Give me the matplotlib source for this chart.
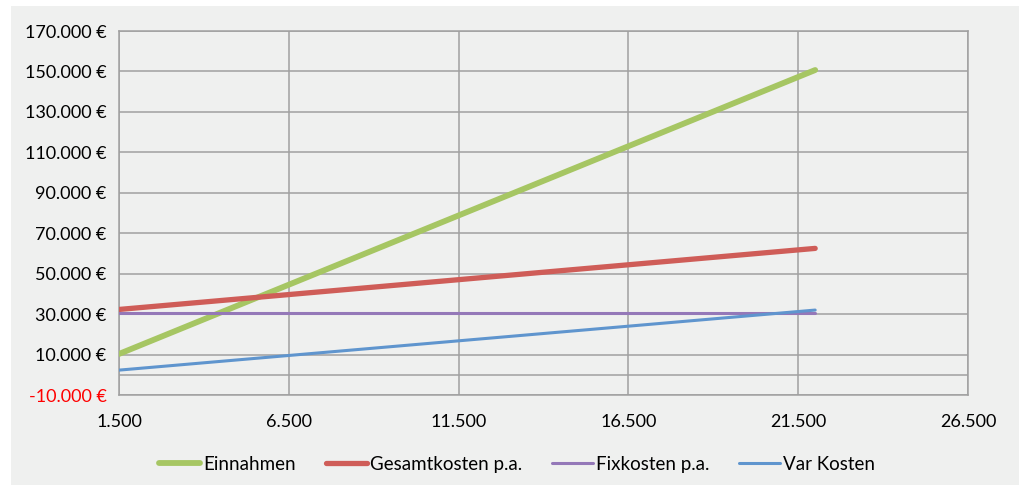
import matplotlib
matplotlib.use("Agg")
import matplotlib.pyplot as plt
from matplotlib.patches import Rectangle
from matplotlib.ticker import FuncFormatter

# Data
menge = [1500, 22000]
einnahmen = [10300, 150700]
gesamtkosten = [32300, 62500]
fixkosten = [30400, 30400]
var_kosten = [2300, 32000]
series_names = ["Einnahmen", "Gesamtkosten p.a.", "Fixkosten p.a.", "Var Kosten"]
x_ticks = [1500, 6500, 11500, 16500, 21500, 26500]
y_ticks = [-10000, 10000, 30000, 50000, 70000, 90000, 110000, 130000, 150000, 170000]

plt.rcParams['font.family'] = ['Lato', 'DejaVu Sans']

W, H = 1024, 486
fig = plt.figure(figsize=(W / 100, H / 100), dpi=100)
fig.patch.set_facecolor('white')
bg = '#EFF0EF'
fig.patches.append(Rectangle((11 / W, 1 - 485 / H), (1019 - 11) / W, (485 - 6) / H,
                             transform=fig.transFigure, facecolor=bg, edgecolor='none', zorder=-10))

ax = fig.add_axes([119 / W, 1 - 395 / H, (968 - 119) / W, (395 - 31) / H])
ax.set_facecolor(bg)
ax.set_xlim(1500, 26500)
ax.set_ylim(-10000, 170000)

grid_c = '#A0A0A0'
ax.set_xticks(x_ticks)
ax.set_yticks(y_ticks)
ax.grid(True, color=grid_c, linewidth=1.1, zorder=1)
ax.axhline(0, color=grid_c, linewidth=1.1, zorder=1)
for s in ax.spines.values():
    s.set_color(grid_c)
    s.set_linewidth(1.1)
ax.tick_params(axis='y', length=0, labelsize=13, pad=9)
ax.tick_params(axis='x', length=0, labelsize=13, pad=14)

def de_fmt(v, pos=None):
    return f"{int(v):,}".replace(",", ".")

ax.xaxis.set_major_formatter(FuncFormatter(lambda v, p: de_fmt(v)))
ax.yaxis.set_major_formatter(FuncFormatter(lambda v, p: de_fmt(v) + " €"))
for lbl, v in zip(ax.get_yticklabels(), y_ticks):
    if v < 0:
        lbl.set_color('#FF0000')

colors = ['#A6C663', '#CF5D58', '#9478B8', '#5F95CE']
widths = [4.2, 3.8, 2.2, 2.2]
for vals, name, c, w in zip([einnahmen, gesamtkosten, fixkosten, var_kosten], series_names, colors, widths):
    ax.plot(menge, vals, color=c, linewidth=w, label=name, solid_capstyle='round', zorder=3)

leg = fig.legend(loc='center', bbox_to_anchor=(517 / W, 1 - 464 / H), ncol=4, frameon=False,
                 fontsize=13.5, handlelength=2.2, handletextpad=0.15, columnspacing=1.6)

fig.savefig('out.png', dpi=100, facecolor=fig.get_facecolor())
